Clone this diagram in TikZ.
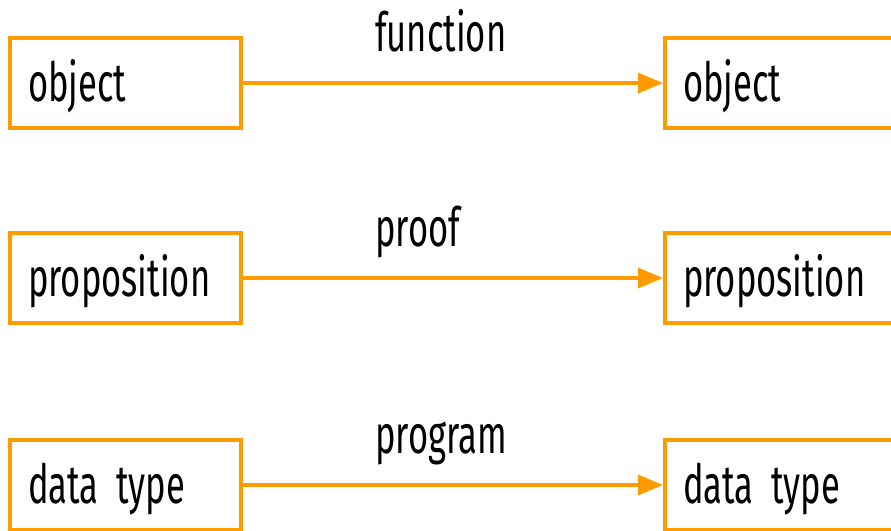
\documentclass[tikz,border=0pt]{standalone}
\usepackage{fontspec}
\setmainfont{Fira Sans}[FakeStretch=0.64]
\usetikzlibrary{arrows.meta}
\definecolor{accent}{HTML}{FF9A00}
% condensed label type with a tight interword space
\newcommand\labelfont{\fontsize{54}{60}\selectfont
  \fontdimen2\font=5pt\fontdimen3\font=0pt\fontdimen4\font=0pt\relax}
\tikzset{
  box/.style={draw=accent, line width=4pt, minimum width=231pt, minimum height=90pt,
    inner sep=0pt, text width=195pt, align=left, text height=36pt, text depth=0pt,
    font=\labelfont},
  link/.style={draw=accent, line width=3.5pt, -{Triangle[length=25pt,width=20pt]}},
  tag/.style={anchor=base west, inner sep=0pt, font=\labelfont}
}
\begin{document}
\begin{tikzpicture}[x=1pt,y=-1pt]
  \clip (0,0) rectangle (891,530);
  \useasboundingbox (0,0) rectangle (891,530);
  % left column
  \node[box] (l1) at (125.5,83) {object};
  \node[box] (l2) at (125.5,278) {proposition};
  \node[box] (l3) at (125.5,485) {data type};
  % right column, running past the right edge
  \node[box] (r1) at (780.5,83) {object};
  \node[box] (r2) at (780.5,278) {proposition};
  \node[box] (r3) at (780.5,485) {data type};
  % arrows
  \draw[link] (l1) -- (r1);
  \draw[link] (l2) -- (r2);
  \draw[link] (l3) -- (r3);
  % arrow labels
  \node[tag] (t1) at (375,51) {function};
  \node[tag] (t2) at (375,246) {proof};
  \node[tag] (t3) at (375,453) {program};
\end{tikzpicture}
\end{document}
